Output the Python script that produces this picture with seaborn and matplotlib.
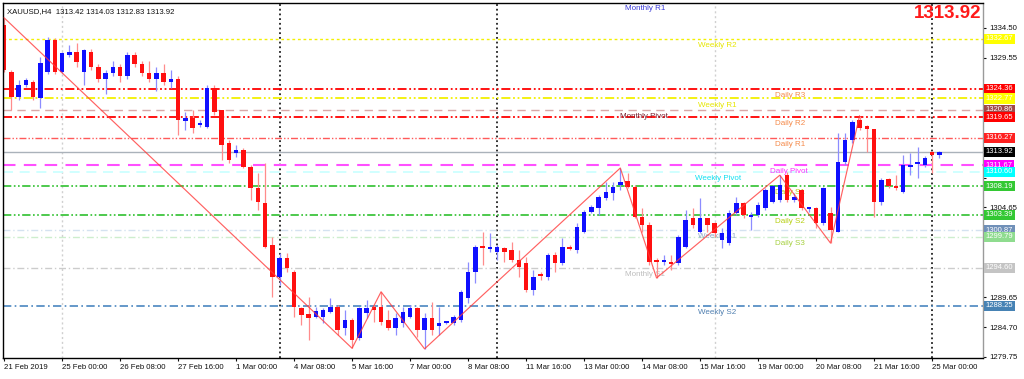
import numpy as np
import pandas as pd
import matplotlib
matplotlib.use("Agg")
import matplotlib.pyplot as plt
import matplotlib.transforms as mtrans
import seaborn as sns

# ---------------- data ----------------
opens = [1335.0, 1327.2, 1323.0, 1325.0, 1325.5, 1322.9, 1327.2, 1332.5, 1327.2, 1330.0,
         1330.5, 1327.2, 1330.5, 1328.0, 1326.0, 1327.0, 1328.0, 1326.5, 1330.0, 1328.5,
         1327.0, 1326.0, 1327.0, 1325.5, 1326.0, 1319.0, 1319.5, 1318.4, 1318.0, 1324.5,
         1320.9, 1315.4, 1313.7, 1314.2, 1311.4, 1307.9, 1305.4, 1298.4, 1293.1, 1296.2,
         1293.9, 1287.9, 1286.9, 1286.4, 1286.4, 1287.2, 1288.1, 1284.6, 1285.9, 1282.9,
         1287.1, 1288.1, 1288.1, 1285.9, 1284.6, 1285.4, 1286.4, 1287.9, 1284.2, 1286.2,
         1284.9, 1285.4, 1285.4, 1285.9, 1289.6, 1293.9, 1298.1, 1297.7, 1297.2, 1297.9,
         1297.6, 1295.9, 1295.4, 1290.9, 1293.6, 1293.1, 1296.7, 1295.4, 1298.1, 1297.6,
         1300.6, 1303.9, 1304.5, 1306.2, 1307.0, 1308.4, 1309.0, 1308.0, 1303.0, 1301.7,
         1295.9, 1295.6, 1295.6, 1295.4, 1298.1, 1302.9, 1300.5, 1302.9, 1302.0, 1299.2,
         1298.7, 1303.7, 1305.4, 1303.0, 1303.4, 1304.5, 1305.5, 1305.9, 1310.0, 1305.9,
         1307.5, 1304.4, 1304.5, 1302.0, 1303.7, 1300.5, 1312.2, 1315.9, 1319.2, 1318.2,
         1317.7, 1305.5, 1309.4, 1308.2, 1307.2, 1311.4, 1311.9, 1311.7, 1313.9, 1313.42]
highs = [1336.2, 1327.5, 1325.8, 1326.2, 1325.8, 1329.7, 1333.0, 1332.8, 1330.5, 1331.7,
         1332.0, 1331.0, 1331.0, 1328.5, 1327.5, 1329.0, 1328.5, 1330.5, 1330.5, 1329.0,
         1329.0, 1328.0, 1328.5, 1327.5, 1326.5, 1320.5, 1320.9, 1319.2, 1325.0, 1325.0,
         1320.9, 1315.9, 1315.0, 1314.5, 1311.7, 1310.4, 1312.0, 1299.7, 1297.1, 1297.1,
         1294.2, 1288.1, 1289.7, 1288.1, 1287.9, 1289.6, 1288.4, 1287.6, 1286.2, 1288.1,
         1289.2, 1288.4, 1290.6, 1287.6, 1287.1, 1288.1, 1288.4, 1288.1, 1287.1, 1288.9,
         1288.1, 1285.8, 1286.7, 1290.9, 1295.6, 1298.4, 1300.5, 1300.4, 1298.4, 1298.1,
         1298.9, 1297.6, 1296.4, 1294.2, 1293.9, 1297.1, 1297.2, 1299.6, 1298.4, 1302.1,
         1304.2, 1305.0, 1306.7, 1308.9, 1308.9, 1311.2, 1310.4, 1308.4, 1304.5, 1302.2,
         1296.2, 1296.7, 1296.7, 1300.0, 1304.2, 1304.5, 1306.2, 1302.9, 1302.2, 1301.2,
         1304.2, 1306.4, 1305.5, 1303.9, 1305.5, 1307.9, 1308.4, 1310.0, 1310.5, 1307.0,
         1307.5, 1304.7, 1304.7, 1308.0, 1304.7, 1317.0, 1317.0, 1319.2, 1319.9, 1318.4,
         1317.7, 1309.5, 1309.5, 1310.0, 1313.4, 1313.7, 1314.7, 1313.2, 1314.0, 1314.03]
lows = [1327.2, 1320.9, 1322.5, 1324.7, 1322.5, 1321.2, 1326.8, 1326.8, 1327.0, 1329.7,
        1328.0, 1325.0, 1327.5, 1325.5, 1323.5, 1326.5, 1325.5, 1326.0, 1328.0, 1326.5,
        1325.5, 1324.0, 1325.0, 1324.5, 1316.7, 1317.5, 1317.0, 1318.0, 1317.8, 1320.0,
        1312.5, 1312.0, 1313.0, 1311.2, 1305.9, 1304.2, 1297.9, 1289.7, 1291.7, 1293.9,
        1286.4, 1285.1, 1282.6, 1286.2, 1285.4, 1287.1, 1283.4, 1283.4, 1281.2, 1282.6,
        1286.2, 1285.6, 1285.1, 1284.2, 1283.4, 1284.8, 1286.2, 1283.1, 1281.1, 1283.4,
        1283.4, 1285.2, 1285.1, 1285.6, 1288.7, 1292.1, 1295.1, 1297.2, 1295.9, 1295.6,
        1295.6, 1293.1, 1290.6, 1290.1, 1292.6, 1292.6, 1293.9, 1295.1, 1297.6, 1297.1,
        1300.4, 1303.7, 1303.4, 1305.9, 1305.9, 1307.5, 1307.9, 1302.9, 1300.6, 1295.1,
        1292.9, 1295.1, 1294.2, 1295.1, 1297.9, 1301.2, 1300.4, 1300.5, 1299.7, 1297.9,
        1298.4, 1303.4, 1302.9, 1300.9, 1303.0, 1304.2, 1305.4, 1305.5, 1305.5, 1305.5,
        1304.2, 1303.9, 1301.2, 1301.7, 1298.7, 1300.5, 1311.7, 1315.4, 1317.5, 1313.9,
        1303.0, 1305.0, 1307.9, 1307.5, 1307.0, 1310.0, 1309.5, 1311.4, 1310.4, 1312.83]
closes = [1327.5, 1323.0, 1325.0, 1325.8, 1323.0, 1328.7, 1332.5, 1327.2, 1330.3, 1330.5,
          1328.8, 1330.8, 1328.0, 1326.0, 1327.0, 1328.0, 1326.5, 1330.0, 1328.5, 1327.0,
          1326.0, 1327.0, 1325.5, 1326.0, 1319.2, 1319.5, 1317.9, 1318.7, 1324.5, 1320.5,
          1315.0, 1312.5, 1314.2, 1311.4, 1307.9, 1305.5, 1298.1, 1293.1, 1296.2, 1294.6,
          1288.1, 1286.7, 1286.2, 1287.4, 1287.6, 1288.1, 1284.2, 1285.9, 1282.6, 1287.9,
          1287.9, 1287.6, 1285.6, 1284.6, 1286.2, 1287.2, 1287.9, 1284.2, 1286.2, 1284.2,
          1285.4, 1285.6, 1286.4, 1290.6, 1293.9, 1298.1, 1297.9, 1298.1, 1298.1, 1297.2,
          1295.9, 1294.7, 1290.9, 1293.1, 1293.2, 1296.7, 1295.4, 1298.1, 1297.7, 1301.4,
          1303.9, 1304.7, 1306.4, 1307.2, 1308.0, 1308.9, 1308.0, 1303.0, 1301.7, 1295.6,
          1295.6, 1295.8, 1295.2, 1299.7, 1302.5, 1301.7, 1302.9, 1301.7, 1300.4, 1300.4,
          1303.7, 1305.4, 1303.4, 1303.4, 1305.0, 1307.5, 1308.2, 1308.4, 1305.9, 1306.4,
          1304.5, 1304.7, 1302.0, 1307.9, 1300.9, 1312.2, 1315.9, 1318.9, 1317.9, 1317.7,
          1305.5, 1309.2, 1308.2, 1307.9, 1311.7, 1311.7, 1312.0, 1312.9, 1313.42, 1313.92]

zigzag_idx = [0, 48, 52, 58, 85, 90, 107, 114, 118]
zigzag_val = [1336.2, 1281.2, 1290.6, 1281.1, 1311.2, 1292.9, 1310.0, 1298.7, 1319.9]

level_names = ["Monthly R1", "Weekly R2", "Daily R3", "Weekly R1", "Monthly Pivot",
               "Daily R2", "Daily R1", "Daily Pivot", "Weekly Pivot", "Daily S1",
               "Daily S2", "Weekly S1", "Daily S3", "Monthly S1", "Weekly S2"]
level_values = [1338.80, 1332.67, 1324.36, 1322.77, 1320.86,
                1319.65, 1316.27, 1311.67, 1310.60, 1308.19,
                1303.39, 1300.87, 1299.79, 1294.60, 1288.25]

xtick_labels = ["21 Feb 2019", "25 Feb 00:00", "26 Feb 08:00", "27 Feb 16:00", "1 Mar 00:00",
                "4 Mar 08:00", "5 Mar 16:00", "7 Mar 00:00", "8 Mar 08:00", "11 Mar 16:00",
                "13 Mar 00:00", "14 Mar 08:00", "15 Mar 16:00", "19 Mar 00:00", "20 Mar 08:00",
                "21 Mar 16:00", "25 Mar 00:00"]
ytick_values = [1279.75, 1284.70, 1289.65, 1294.60, 1299.55, 1304.65,
                1309.60, 1314.55, 1319.50, 1324.45, 1329.55, 1334.50]
week_sep_black = [38, 68, 128]
week_sep_gray = [8, 98]

symbol = "XAUUSD,H4"

# ---------------- styles ----------------
DDD = (0, (5, 1.5, 1, 1.5, 1, 1.5))
DD = (0, (5, 2, 1, 2))
DASH = (0, (6, 4))
DOT = (0, (2, 2))
level_style = {
    #  name: (line color, linestyle, lw, text color, box color, label x)
    "Monthly R1":    (None,      None, 0,   "#3a3ad8", None,      85.6),
    "Weekly R2":     ("#f2f000", DOT,  1.0, "#e6e600", "#ffff00", 95.7),
    "Daily R3":      ("#ff0000", DDD,  1.3, "#f58a4a", "#ff0000", 106.4),
    "Weekly R1":     ("#f2f000", DDD,  1.3, "#e6e600", "#ffff00", 95.7),
    "Monthly Pivot": ("#d8a8a8", DASH, 1.0, "#7a2030", "#a04848", 85.0),
    "Daily R2":      ("#ff0000", DDD,  1.3, "#f58a4a", "#ff0000", 106.4),
    "Daily R1":      ("#ff5a5a", DDD,  1.0, "#f58a4a", "#ff2020", 106.4),
    "Daily Pivot":   ("#ff50ff", DASH, 1.5, "#ff30ff", "#ff00ff", 105.7),
    "Weekly Pivot":  ("#c8ffff", DASH, 1.2, "#10e0f0", "#00ffff", 95.3),
    "Daily S1":      ("#2fc02f", DDD,  1.2, "#b6cf10", "#33c833", 106.4),
    "Daily S2":      ("#2fc02f", DDD,  1.2, "#b6cf10", "#33c833", 106.4),
    "Weekly S1":     ("#d4e2f0", DD,   1.0, "#8ea8c8", "#7090b8", 95.7),
    "Daily S3":      ("#cdeecd", DD,   1.0, "#a6d040", "#8fdc8f", 106.4),
    "Monthly S1":    ("#cccccc", DD,   1.0, "#bdbdbd", "#c4c4c4", 85.6),
    "Weekly S2":     ("#4a86c0", DD,   1.2, "#4f7fb0", "#4682b4", 95.7),
}

sns.set_style("white")
plt.rcParams["font.family"] = ["Liberation Sans", "DejaVu Sans"]

W, H = 1024, 379
fig = plt.figure(figsize=(W / 100, H / 100), dpi=100)
ax = fig.add_axes([3 / W, (H - 358) / H, (983 - 3) / W, (358 - 3) / H])

n = len(opens)
idx = np.arange(n)
df = pd.DataFrame({"i": idx, "open": opens, "high": highs, "low": lows, "close": closes})
df["bull"] = df["close"] >= df["open"]

# week separators
for xs in week_sep_gray:
    ax.axvline(xs, color="#d0d0d0", lw=1.0, ls=(0, (1.5, 2)), zorder=1)
for xs in week_sep_black:
    ax.axvline(xs, color="#202020", lw=1.3, ls=(0, (1, 1.6)), zorder=1)

# level lines
for name, val in zip(level_names, level_values):
    lc, ls, lw, tc, bc, lx = level_style[name]
    if lc is not None:
        ax.axhline(val, color=lc, ls=ls, lw=lw, zorder=1.2)
    ax.annotate(name, xy=(lx, val), xytext=(0, -2.2), textcoords="offset points",
                ha="left", va="top", fontsize=5.8, color=tc, zorder=1.5,
                annotation_clip=False)

# current price line
last = closes[-1]
ax.axhline(last, color="#aab2ba", lw=1.0, zorder=1.3)

# candles
wick_col = np.where(df["bull"], "#8c8cff", "#ff8c8c")
body_col = np.where(df["bull"], "#1010ff", "#ff1010")
ax.vlines(df["i"], df["low"], df["high"], colors=wick_col, lw=0.9, zorder=2)
body_bottom = np.minimum(df["open"], df["close"])
body_h = np.maximum(np.abs(df["close"] - df["open"]), 0.28)
ax.bar(df["i"], body_h, bottom=body_bottom, width=0.62, color=body_col,
       linewidth=0, zorder=2.5)

# zigzag
sns.lineplot(x=zigzag_idx, y=zigzag_val, ax=ax, color="#ff3a3a", lw=0.85,
             alpha=0.8, legend=False, zorder=3, sort=False)

ax.set_xlim(-0.15, 135.03)
ax.set_ylim(1279.58, 1338.66)

# axes cosmetics
for s in ["left", "top", "bottom"]:
    ax.spines[s].set_color("#000000")
    ax.spines[s].set_linewidth(1.0)
ax.spines["right"].set_color("#9a9a9a")
ax.spines["right"].set_linewidth(1.0)

# value boxes drawn on the right cover some axis labels
box_vals = [v for nme, v in zip(level_names, level_values) if level_style[nme][4] is not None]
box_vals.append(last)
ylabels = []
for v in ytick_values:
    covered = any(abs(v - b) < 1.1 for b in box_vals)
    ylabels.append("" if covered else f"{v:.2f}")

ax.yaxis.tick_right()
ax.set_yticks(ytick_values)
ax.set_yticklabels(ylabels)
ax.tick_params(axis="y", right=True, left=False, length=2.5, width=0.8, pad=2,
               labelsize=5.6, colors="#101010")
xt = np.arange(0, 8 * len(xtick_labels), 8)
ax.set_xticks(xt)
ax.set_xticklabels(xtick_labels, ha="left")
ax.tick_params(axis="x", bottom=True, length=2.5, width=0.8, pad=2,
               labelsize=5.6, colors="#101010")
ax.set_xlabel("")
ax.set_ylabel("")
ax.grid(False)

# right-side value boxes
trans = mtrans.blended_transform_factory(ax.transAxes, ax.transData)
for name, val in zip(level_names, level_values):
    lc, ls, lw, tc, bc, lx = level_style[name]
    if bc is None:
        continue
    ax.text(1.003, val, f"{val:.2f}", transform=trans, ha="left", va="center",
            fontsize=5.5, color="white", clip_on=False, zorder=5,
            bbox=dict(boxstyle="square,pad=0.2", fc=bc, ec="none"))
ax.text(1.003, last, f"{last:.2f}", transform=trans, ha="left", va="center",
        fontsize=5.5, color="white", clip_on=False, zorder=6,
        bbox=dict(boxstyle="square,pad=0.2", fc="#000000", ec="none"))

# header texts
ax.text(0.004, 0.985, f"{symbol}  {opens[-1]:.2f} {highs[-1]:.2f} {lows[-1]:.2f} {closes[-1]:.2f}",
        transform=ax.transAxes, ha="left", va="top", fontsize=5.6, color="#101010", zorder=6)
ax.text(0.9985, 0.995, f"{last:.2f}", transform=ax.transAxes, ha="right", va="top",
        fontsize=13.5, fontweight="bold", color="#ff1a1a", zorder=6)

fig.savefig("out.png", dpi=100, facecolor="white")
